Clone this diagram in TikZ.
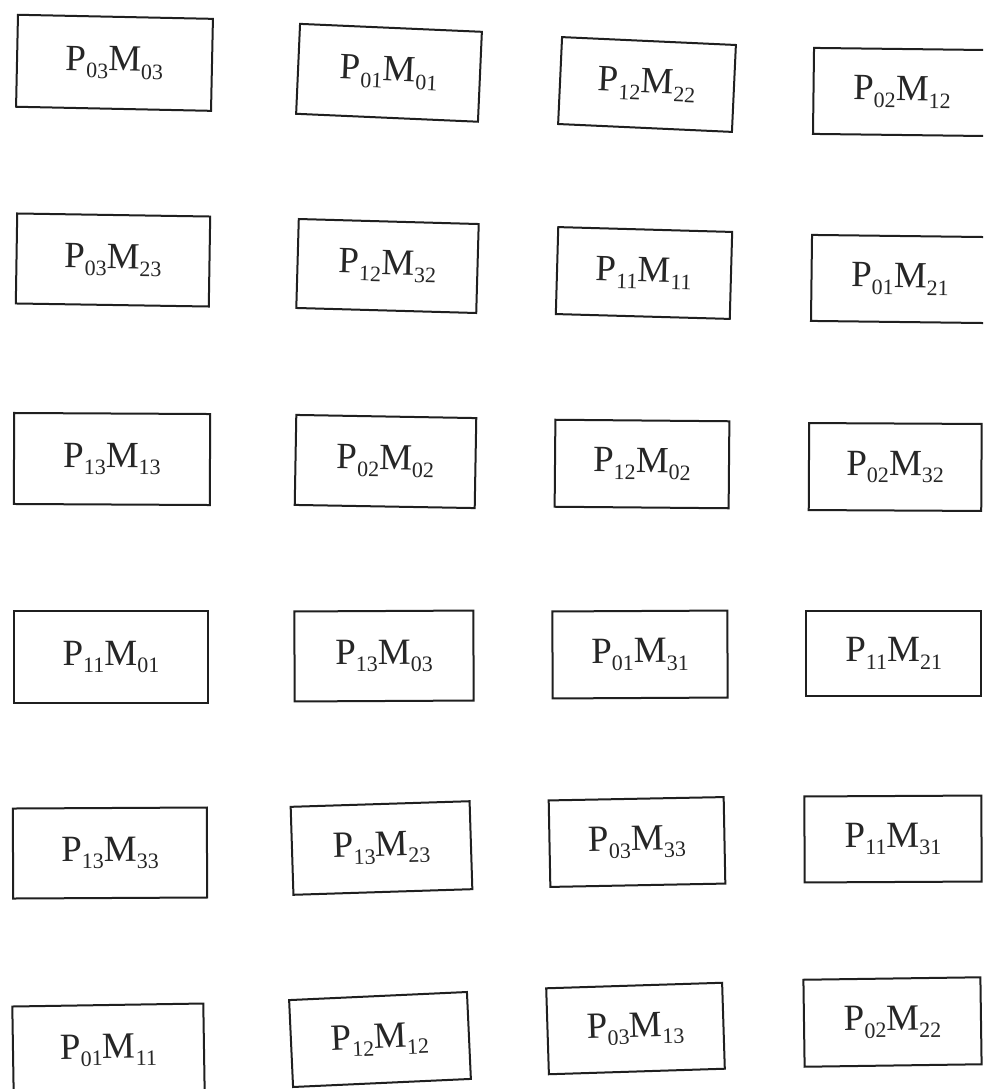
\documentclass[tikz,border=0pt]{standalone}
\usepackage{fontspec}
\setmainfont{Liberation Serif}
\newcommand\sbx[1]{\raisebox{-0.2em}{\fontsize{22}{22}\selectfont #1}}
\newcommand\PMlab[2]{P\sbx{#1}M\sbx{#2}}
\tikzset{
  cell/.style={draw=black!88, line width=2pt, inner sep=0pt, align=center,
    font=\fontsize{37}{40}\selectfont, text=black!85},
}
\begin{document}
\begin{tikzpicture}[x=1pt,y=-1pt]
\useasboundingbox (0,0) rectangle (983,1089);
\clip (0,0) rectangle (983,1089);
\fill[white] (0,0) rectangle (983,1089);
% row 1
\node[cell, minimum width=195, minimum height=92, rotate=-1.2] (b11) at (114.5,62.8) {\PMlab{03}{03}};
\node[cell, minimum width=182, minimum height=90, rotate=-2.5] (b12) at (389,72.8) {\PMlab{01}{01}};
\node[cell, minimum width=174, minimum height=87, rotate=-2.6] (b13) at (647,84.5) {\PMlab{12}{22}};
\node[cell, minimum width=177, minimum height=86, rotate=-0.7] (b14) at (902,92) {\PMlab{02}{12}};
% row 2
\node[cell, minimum width=193, minimum height=90, rotate=-0.9] (b21) at (113,260) {\PMlab{03}{23}};
\node[cell, minimum width=180, minimum height=89, rotate=-1.6] (b22) at (387.5,266) {\PMlab{12}{32}};
\node[cell, minimum width=174, minimum height=87, rotate=-1.6] (b23) at (644,273) {\PMlab{11}{11}};
\node[cell, minimum width=177, minimum height=86, rotate=-0.7] (b24) at (900,279) {\PMlab{01}{21}};
% row 3
\node[cell, minimum width=196, minimum height=91, rotate=-0.3] (b31) at (112,459) {\PMlab{13}{13}};
\node[cell, minimum width=180, minimum height=90, rotate=-1.0] (b32) at (385.5,461.5) {\PMlab{02}{02}};
\node[cell, minimum width=174, minimum height=87, rotate=-0.5] (b33) at (642,464) {\PMlab{12}{02}};
\node[cell, minimum width=172.5, minimum height=87, rotate=-0.3] (b34) at (895.2,467) {\PMlab{02}{32}};
% row 4
\node[cell, minimum width=194, minimum height=92] (b41) at (111,657) {\PMlab{11}{01}};
\node[cell, minimum width=179, minimum height=90, rotate=0.3] (b42) at (384,656) {\PMlab{13}{03}};
\node[cell, minimum width=175, minimum height=87, rotate=0.3] (b43) at (640,654.5) {\PMlab{01}{31}};
\node[cell, minimum width=175.5, minimum height=85] (b44) at (893.7,653.5) {\PMlab{11}{21}};
% row 5
\node[cell, minimum width=194, minimum height=90, rotate=0.3] (b51) at (110,853) {\PMlab{13}{33}};
\node[cell, minimum width=179, minimum height=88, rotate=1.8] (b52) at (381.5,848) {\PMlab{13}{23}};
\node[cell, minimum width=175, minimum height=86.5, rotate=1.1] (b53) at (637,842) {\PMlab{03}{33}};
\node[cell, minimum width=177, minimum height=86, rotate=0.3] (b54) at (893,839) {\PMlab{11}{31}};
% row 6
\node[cell, minimum width=191, minimum height=90, rotate=0.9] (b61) at (108.5,1050) {\PMlab{01}{11}};
\node[cell, minimum width=178, minimum height=87, rotate=2.6] (b62) at (380,1039.5) {\PMlab{12}{12}};
\node[cell, minimum width=176, minimum height=86, rotate=1.8] (b63) at (635.5,1028.5) {\PMlab{03}{13}};
\node[cell, minimum width=177, minimum height=87, rotate=0.8] (b64) at (892.5,1022) {\PMlab{02}{22}};
\end{tikzpicture}
\end{document}
